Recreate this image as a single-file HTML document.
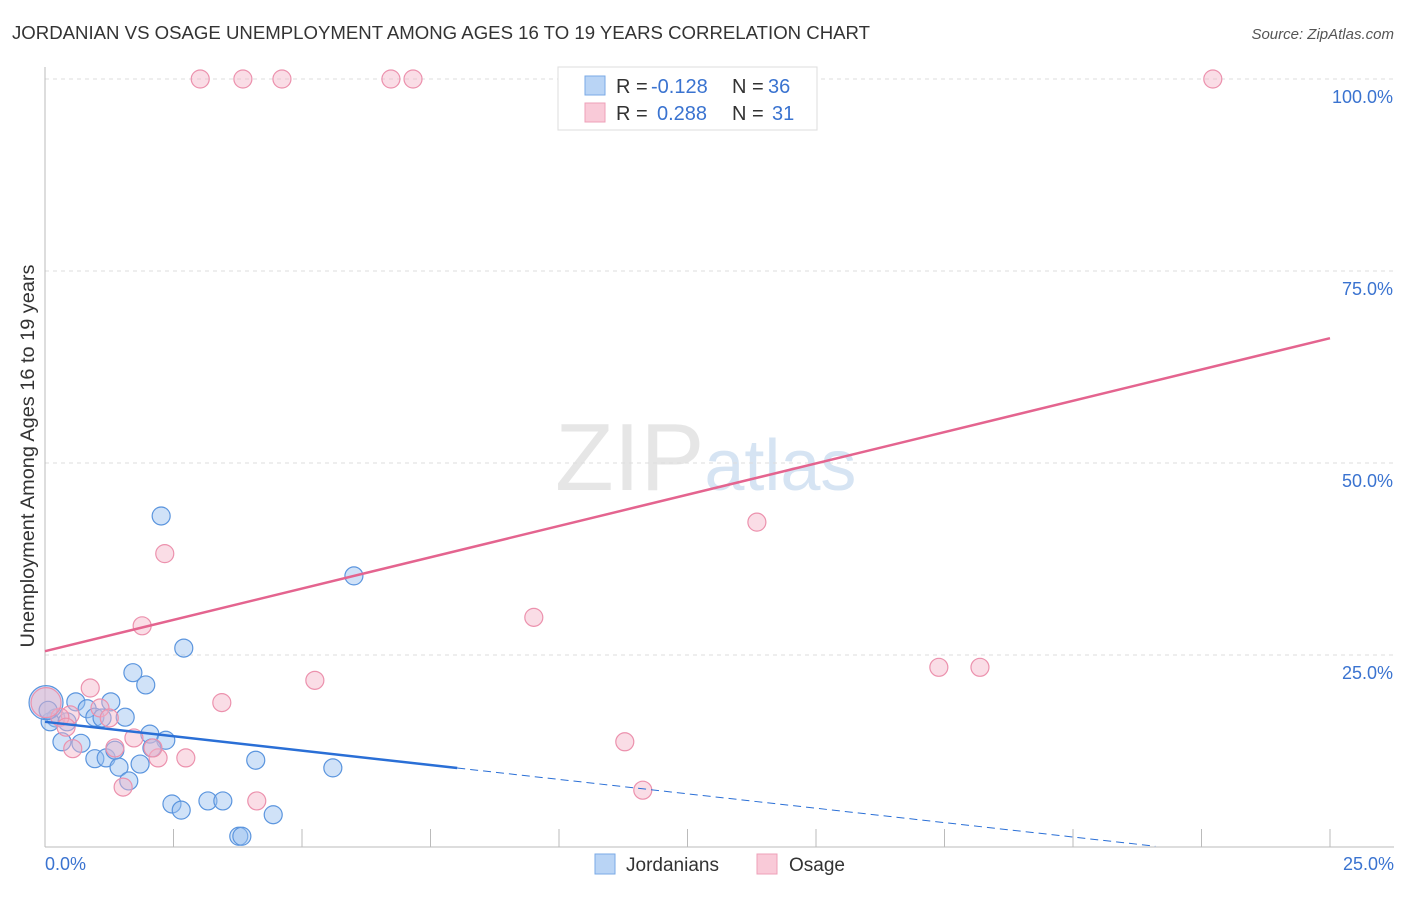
<!DOCTYPE html>
<html><head><meta charset="utf-8"><style>
body{margin:0;background:#fff;font-family:"Liberation Sans",sans-serif;}
svg text{font-family:"Liberation Sans",sans-serif;}
</style></head><body>
<svg id="chart" width="1406" height="892" xmlns="http://www.w3.org/2000/svg">
<text x="12" y="39" font-size="18" fill="#333" textLength="858" lengthAdjust="spacingAndGlyphs">JORDANIAN VS OSAGE UNEMPLOYMENT AMONG AGES 16 TO 19 YEARS CORRELATION CHART</text>
<text x="1394" y="39" font-size="15" fill="#555" text-anchor="end" font-style="italic">Source: ZipAtlas.com</text>
<text x="555" y="490" font-size="96" fill="#e6e6e6" font-family="Liberation Serif">ZIP<tspan fill="#d6e4f3" font-family="Liberation Sans" font-size="72">atlas</tspan></text>
<g id="grid"></g><g id="axes"></g><g id="marks"></g><g id="trends"></g>
<text transform="translate(34,456) rotate(-90)" font-size="19" fill="#333" text-anchor="middle" textLength="383" lengthAdjust="spacingAndGlyphs">Unemployment Among Ages 16 to 19 years</text>
<g>
<rect x="558" y="67" width="259" height="63" fill="#fff" stroke="#ddd"/>
<rect x="585" y="76" width="20" height="19" fill="#b9d4f5" stroke="#7aaae6"/>
<rect x="585" y="103" width="20" height="19" fill="#f9cad8" stroke="#eea0b8"/>
<text x="616" y="93" font-size="20" fill="#333">R = <tspan fill="#3a73d0" x="651">-0.128</tspan><tspan x="732">N = </tspan><tspan fill="#3a73d0" x="768">36</tspan></text>
<text x="616" y="120" font-size="20" fill="#333">R = <tspan fill="#3a73d0" x="657">0.288</tspan><tspan x="732">N = </tspan><tspan fill="#3a73d0" x="772">31</tspan></text>
</g>
<g>
<rect x="595" y="854" width="20" height="20" fill="#b9d4f5" stroke="#7aaae6"/>
<text x="626" y="871" font-size="19" fill="#333">Jordanians</text>
<rect x="757" y="854" width="20" height="20" fill="#f9cad8" stroke="#eea0b8"/>
<text x="789" y="871" font-size="19" fill="#333">Osage</text>
</g>
</svg>
<script>
const blueX=[2.26,6.01,2.70,1.71,1.96,0.60,1.28,0.82,1.56,0.21,0.97,0.10,0.43,2.04,2.35,0.70,0.33,2.08,0.97,1.19,1.44,1.85,5.60,4.10,1.63,2.47,2.65,3.17,3.46,4.44,3.77,3.83,0.02,1.36,1.11,0.06];
const blueY=[43.1,35.3,25.9,22.7,21.1,18.9,18.9,18.0,16.9,16.8,16.9,16.3,16.3,14.7,13.9,13.5,13.7,12.9,11.5,11.6,10.4,10.8,10.3,11.3,8.6,5.6,4.8,6.0,6.0,4.2,1.4,1.4,18.8,12.6,16.8,17.8];
const pinkX=[3.02,3.85,4.61,6.73,7.16,22.72,13.85,2.33,9.51,1.89,5.25,17.39,18.19,0.88,3.44,1.07,0.49,1.25,0.29,0.02,1.73,1.36,0.54,2.20,2.74,11.28,11.63,1.52,4.12,2.10,0.41];
const pinkY=[100,100,100,100,100,100,42.3,38.2,29.9,28.8,21.7,23.4,23.4,20.7,18.8,18.1,17.2,16.8,16.9,18.8,14.2,12.9,12.8,11.6,11.6,13.7,7.4,7.8,6.0,12.9,15.6];
const xTicks=[0,2.5,5,7.5,10,12.5,15,17.5,20,22.5,25];
const yTicks=[25,50,75,100];
const yTickLabels=["25.0%","50.0%","75.0%","100.0%"];
const blueTrend=[16.3,-0.75];  // intercept, slope
const pinkTrend=[25.5,1.63];
const NS="http://www.w3.org/2000/svg";
const sx=v=>45+v*51.4, sy=v=>847-v*7.68;
function mk(p,t,a){const e=document.createElementNS(NS,t);for(const k in a)e.setAttribute(k,a[k]);p.appendChild(e);return e;}
const grid=document.getElementById('grid'),axes=document.getElementById('axes'),marks=document.getElementById('marks'),tr=document.getElementById('trends');
yTicks.forEach((t,i)=>{
 const l=mk(grid,'line',{x1:45,x2:1394,y1:sy(t),y2:sy(t),stroke:'#ddd','stroke-dasharray':'4,4'});
 
 
 const tx=mk(axes,'text',{x:1393,y:sy(t)+24,'font-size':18,fill:'#3a73d0','text-anchor':'end'});tx.textContent=yTickLabels[i];
 
 
});
mk(axes,'line',{x1:45,x2:45,y1:67,y2:847,stroke:'#bbb'});
mk(axes,'line',{x1:45,x2:1394,y1:847,y2:847,stroke:'#bbb'});
xTicks.forEach(t=>{const l=mk(axes,'line',{x1:sx(t),x2:sx(t),y1:829,y2:847,stroke:'#bbb'});
 
 });
const x0=mk(axes,'text',{x:45,y:870,'font-size':18,fill:'#3a73d0'});x0.textContent="0.0%";


const x1=mk(axes,'text',{x:1394,y:870,'font-size':18,fill:'#3a73d0','text-anchor':'end'});x1.textContent="25.0%";


blueX.forEach((x,i)=>{const r=i==32?17:9;const c=mk(marks,'circle',{cx:sx(x),cy:sy(blueY[i]),r:r,fill:'rgba(150,190,240,0.45)',stroke:'#5b95de','stroke-width':1.2});
 
 });
pinkX.forEach((x,i)=>{const r=i==19?15:9;const c=mk(marks,'circle',{cx:sx(x),cy:sy(pinkY[i]),r:r,fill:'rgba(245,180,200,0.45)',stroke:'#ec91ad','stroke-width':1.2});
 
 });
const bEnd=8.02, bDash=21.6;
let l=mk(tr,'line',{x1:sx(0),y1:sy(blueTrend[0]),x2:sx(bEnd),y2:sy(blueTrend[0]+blueTrend[1]*bEnd),stroke:'#2a6fd6','stroke-width':2.5});


l=mk(tr,'line',{x1:sx(bEnd),y1:sy(blueTrend[0]+blueTrend[1]*bEnd),x2:sx(bDash),y2:sy(blueTrend[0]+blueTrend[1]*bDash),stroke:'#2a6fd6','stroke-width':1,'stroke-dasharray':'8,5'});


l=mk(tr,'line',{x1:sx(0),y1:sy(pinkTrend[0]),x2:sx(25),y2:sy(pinkTrend[0]+pinkTrend[1]*25),stroke:'#e4648f','stroke-width':2.5});


</script>
</body></html>
